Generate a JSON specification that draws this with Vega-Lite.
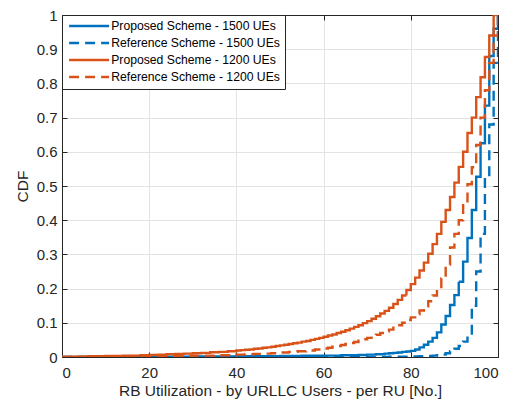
{
"$schema":"https://vega.github.io/schema/vega-lite/v6.json",
"width":436,"height":342,
"autosize":{"type":"none"},
"padding":{"left":62,"top":15,"right":17,"bottom":46},
"background":"white",
"config":{"font":"Liberation Sans","view":{"stroke":"#262626","strokeWidth":1},
"legend":{"title":null,"orient":"top-left","offset":0,"symbolType":"M-1,0H9","symbolSize":64,"symbolStrokeWidth":2.5,"labelFontSize":12.2,"labelColor":"#000000","labelLimit":300,"labelOffset":32,"rowPadding":4,"padding":5,"strokeColor":"#262626","fillColor":"white","cornerRadius":0}},
"layer":[
{"data":{"values":[
{"s":"Proposed Scheme - 1500 UEs","x":0,"cdf":0},{"s":"Proposed Scheme - 1500 UEs","x":10,"cdf":0.0005},{"s":"Proposed Scheme - 1500 UEs","x":20,"cdf":0.001},{"s":"Proposed Scheme - 1500 UEs","x":30,"cdf":0.0015},{"s":"Proposed Scheme - 1500 UEs","x":40,"cdf":0.002},{"s":"Proposed Scheme - 1500 UEs","x":50,"cdf":0.003},{"s":"Proposed Scheme - 1500 UEs","x":55,"cdf":0.0035},{"s":"Proposed Scheme - 1500 UEs","x":60,"cdf":0.004},{"s":"Proposed Scheme - 1500 UEs","x":64,"cdf":0.005},{"s":"Proposed Scheme - 1500 UEs","x":68,"cdf":0.006},{"s":"Proposed Scheme - 1500 UEs","x":70,"cdf":0.007},{"s":"Proposed Scheme - 1500 UEs","x":72,"cdf":0.008},{"s":"Proposed Scheme - 1500 UEs","x":74,"cdf":0.01},{"s":"Proposed Scheme - 1500 UEs","x":75,"cdf":0.011},{"s":"Proposed Scheme - 1500 UEs","x":76,"cdf":0.012},{"s":"Proposed Scheme - 1500 UEs","x":77,"cdf":0.013},{"s":"Proposed Scheme - 1500 UEs","x":78,"cdf":0.015},{"s":"Proposed Scheme - 1500 UEs","x":79,"cdf":0.016},{"s":"Proposed Scheme - 1500 UEs","x":80,"cdf":0.018},{"s":"Proposed Scheme - 1500 UEs","x":81,"cdf":0.022},{"s":"Proposed Scheme - 1500 UEs","x":82,"cdf":0.028},{"s":"Proposed Scheme - 1500 UEs","x":83,"cdf":0.036},{"s":"Proposed Scheme - 1500 UEs","x":84,"cdf":0.045},{"s":"Proposed Scheme - 1500 UEs","x":85,"cdf":0.056},{"s":"Proposed Scheme - 1500 UEs","x":86,"cdf":0.072},{"s":"Proposed Scheme - 1500 UEs","x":87,"cdf":0.095},{"s":"Proposed Scheme - 1500 UEs","x":88,"cdf":0.12},{"s":"Proposed Scheme - 1500 UEs","x":89,"cdf":0.152},{"s":"Proposed Scheme - 1500 UEs","x":90,"cdf":0.181},{"s":"Proposed Scheme - 1500 UEs","x":91,"cdf":0.22},{"s":"Proposed Scheme - 1500 UEs","x":92,"cdf":0.279},{"s":"Proposed Scheme - 1500 UEs","x":93,"cdf":0.348},{"s":"Proposed Scheme - 1500 UEs","x":94,"cdf":0.43},{"s":"Proposed Scheme - 1500 UEs","x":95,"cdf":0.527},{"s":"Proposed Scheme - 1500 UEs","x":96,"cdf":0.625},{"s":"Proposed Scheme - 1500 UEs","x":97,"cdf":0.735},{"s":"Proposed Scheme - 1500 UEs","x":98,"cdf":0.88},{"s":"Proposed Scheme - 1500 UEs","x":99,"cdf":0.96},{"s":"Proposed Scheme - 1500 UEs","x":100,"cdf":1.0},
{"s":"Reference Scheme - 1500 UEs","x":0,"cdf":0},{"s":"Reference Scheme - 1500 UEs","x":60,"cdf":0.0005},{"s":"Reference Scheme - 1500 UEs","x":75,"cdf":0.001},{"s":"Reference Scheme - 1500 UEs","x":80,"cdf":0.0015},{"s":"Reference Scheme - 1500 UEs","x":82,"cdf":0.002},{"s":"Reference Scheme - 1500 UEs","x":84,"cdf":0.003},{"s":"Reference Scheme - 1500 UEs","x":85,"cdf":0.004},{"s":"Reference Scheme - 1500 UEs","x":86,"cdf":0.005},{"s":"Reference Scheme - 1500 UEs","x":87,"cdf":0.007},{"s":"Reference Scheme - 1500 UEs","x":88,"cdf":0.011},{"s":"Reference Scheme - 1500 UEs","x":89,"cdf":0.017},{"s":"Reference Scheme - 1500 UEs","x":90,"cdf":0.024},{"s":"Reference Scheme - 1500 UEs","x":91,"cdf":0.032},{"s":"Reference Scheme - 1500 UEs","x":92,"cdf":0.045},{"s":"Reference Scheme - 1500 UEs","x":93,"cdf":0.06},{"s":"Reference Scheme - 1500 UEs","x":94,"cdf":0.15},{"s":"Reference Scheme - 1500 UEs","x":95,"cdf":0.25},{"s":"Reference Scheme - 1500 UEs","x":96,"cdf":0.36},{"s":"Reference Scheme - 1500 UEs","x":97,"cdf":0.52},{"s":"Reference Scheme - 1500 UEs","x":98,"cdf":0.68},{"s":"Reference Scheme - 1500 UEs","x":99,"cdf":0.86},{"s":"Reference Scheme - 1500 UEs","x":100,"cdf":1.0},
{"s":"Proposed Scheme - 1200 UEs","x":0,"cdf":0},{"s":"Proposed Scheme - 1200 UEs","x":2,"cdf":0.001},{"s":"Proposed Scheme - 1200 UEs","x":6,"cdf":0.002},{"s":"Proposed Scheme - 1200 UEs","x":10,"cdf":0.003},{"s":"Proposed Scheme - 1200 UEs","x":14,"cdf":0.004},{"s":"Proposed Scheme - 1200 UEs","x":18,"cdf":0.005},{"s":"Proposed Scheme - 1200 UEs","x":20,"cdf":0.006},{"s":"Proposed Scheme - 1200 UEs","x":22,"cdf":0.007},{"s":"Proposed Scheme - 1200 UEs","x":24,"cdf":0.008},{"s":"Proposed Scheme - 1200 UEs","x":26,"cdf":0.009},{"s":"Proposed Scheme - 1200 UEs","x":28,"cdf":0.01},{"s":"Proposed Scheme - 1200 UEs","x":30,"cdf":0.011},{"s":"Proposed Scheme - 1200 UEs","x":32,"cdf":0.012},{"s":"Proposed Scheme - 1200 UEs","x":34,"cdf":0.014},{"s":"Proposed Scheme - 1200 UEs","x":36,"cdf":0.015},{"s":"Proposed Scheme - 1200 UEs","x":38,"cdf":0.017},{"s":"Proposed Scheme - 1200 UEs","x":40,"cdf":0.019},{"s":"Proposed Scheme - 1200 UEs","x":41,"cdf":0.02},{"s":"Proposed Scheme - 1200 UEs","x":42,"cdf":0.021},{"s":"Proposed Scheme - 1200 UEs","x":43,"cdf":0.022},{"s":"Proposed Scheme - 1200 UEs","x":44,"cdf":0.024},{"s":"Proposed Scheme - 1200 UEs","x":45,"cdf":0.025},{"s":"Proposed Scheme - 1200 UEs","x":46,"cdf":0.027},{"s":"Proposed Scheme - 1200 UEs","x":47,"cdf":0.028},{"s":"Proposed Scheme - 1200 UEs","x":48,"cdf":0.03},{"s":"Proposed Scheme - 1200 UEs","x":49,"cdf":0.032},{"s":"Proposed Scheme - 1200 UEs","x":50,"cdf":0.034},{"s":"Proposed Scheme - 1200 UEs","x":51,"cdf":0.036},{"s":"Proposed Scheme - 1200 UEs","x":52,"cdf":0.038},{"s":"Proposed Scheme - 1200 UEs","x":53,"cdf":0.04},{"s":"Proposed Scheme - 1200 UEs","x":54,"cdf":0.042},{"s":"Proposed Scheme - 1200 UEs","x":55,"cdf":0.045},{"s":"Proposed Scheme - 1200 UEs","x":56,"cdf":0.047},{"s":"Proposed Scheme - 1200 UEs","x":57,"cdf":0.05},{"s":"Proposed Scheme - 1200 UEs","x":58,"cdf":0.053},{"s":"Proposed Scheme - 1200 UEs","x":59,"cdf":0.056},{"s":"Proposed Scheme - 1200 UEs","x":60,"cdf":0.059},{"s":"Proposed Scheme - 1200 UEs","x":61,"cdf":0.063},{"s":"Proposed Scheme - 1200 UEs","x":62,"cdf":0.066},{"s":"Proposed Scheme - 1200 UEs","x":63,"cdf":0.07},{"s":"Proposed Scheme - 1200 UEs","x":64,"cdf":0.074},{"s":"Proposed Scheme - 1200 UEs","x":65,"cdf":0.078},{"s":"Proposed Scheme - 1200 UEs","x":66,"cdf":0.083},{"s":"Proposed Scheme - 1200 UEs","x":67,"cdf":0.088},{"s":"Proposed Scheme - 1200 UEs","x":68,"cdf":0.093},{"s":"Proposed Scheme - 1200 UEs","x":69,"cdf":0.099},{"s":"Proposed Scheme - 1200 UEs","x":70,"cdf":0.105},{"s":"Proposed Scheme - 1200 UEs","x":71,"cdf":0.112},{"s":"Proposed Scheme - 1200 UEs","x":72,"cdf":0.119},{"s":"Proposed Scheme - 1200 UEs","x":73,"cdf":0.127},{"s":"Proposed Scheme - 1200 UEs","x":74,"cdf":0.135},{"s":"Proposed Scheme - 1200 UEs","x":75,"cdf":0.144},{"s":"Proposed Scheme - 1200 UEs","x":76,"cdf":0.155},{"s":"Proposed Scheme - 1200 UEs","x":77,"cdf":0.167},{"s":"Proposed Scheme - 1200 UEs","x":78,"cdf":0.18},{"s":"Proposed Scheme - 1200 UEs","x":79,"cdf":0.196},{"s":"Proposed Scheme - 1200 UEs","x":80,"cdf":0.213},{"s":"Proposed Scheme - 1200 UEs","x":81,"cdf":0.232},{"s":"Proposed Scheme - 1200 UEs","x":82,"cdf":0.253},{"s":"Proposed Scheme - 1200 UEs","x":83,"cdf":0.276},{"s":"Proposed Scheme - 1200 UEs","x":84,"cdf":0.302},{"s":"Proposed Scheme - 1200 UEs","x":85,"cdf":0.33},{"s":"Proposed Scheme - 1200 UEs","x":86,"cdf":0.36},{"s":"Proposed Scheme - 1200 UEs","x":87,"cdf":0.395},{"s":"Proposed Scheme - 1200 UEs","x":88,"cdf":0.43},{"s":"Proposed Scheme - 1200 UEs","x":89,"cdf":0.468},{"s":"Proposed Scheme - 1200 UEs","x":90,"cdf":0.51},{"s":"Proposed Scheme - 1200 UEs","x":91,"cdf":0.556},{"s":"Proposed Scheme - 1200 UEs","x":92,"cdf":0.6},{"s":"Proposed Scheme - 1200 UEs","x":93,"cdf":0.655},{"s":"Proposed Scheme - 1200 UEs","x":94,"cdf":0.7},{"s":"Proposed Scheme - 1200 UEs","x":95,"cdf":0.76},{"s":"Proposed Scheme - 1200 UEs","x":96,"cdf":0.818},{"s":"Proposed Scheme - 1200 UEs","x":97,"cdf":0.877},{"s":"Proposed Scheme - 1200 UEs","x":98,"cdf":0.94},{"s":"Proposed Scheme - 1200 UEs","x":99,"cdf":1.0},{"s":"Proposed Scheme - 1200 UEs","x":100,"cdf":1.0},
{"s":"Reference Scheme - 1200 UEs","x":0,"cdf":0},{"s":"Reference Scheme - 1200 UEs","x":5,"cdf":0.0005},{"s":"Reference Scheme - 1200 UEs","x":10,"cdf":0.001},{"s":"Reference Scheme - 1200 UEs","x":15,"cdf":0.0015},{"s":"Reference Scheme - 1200 UEs","x":20,"cdf":0.002},{"s":"Reference Scheme - 1200 UEs","x":25,"cdf":0.003},{"s":"Reference Scheme - 1200 UEs","x":30,"cdf":0.004},{"s":"Reference Scheme - 1200 UEs","x":35,"cdf":0.005},{"s":"Reference Scheme - 1200 UEs","x":40,"cdf":0.007},{"s":"Reference Scheme - 1200 UEs","x":42,"cdf":0.008},{"s":"Reference Scheme - 1200 UEs","x":44,"cdf":0.009},{"s":"Reference Scheme - 1200 UEs","x":46,"cdf":0.01},{"s":"Reference Scheme - 1200 UEs","x":48,"cdf":0.011},{"s":"Reference Scheme - 1200 UEs","x":50,"cdf":0.013},{"s":"Reference Scheme - 1200 UEs","x":52,"cdf":0.015},{"s":"Reference Scheme - 1200 UEs","x":54,"cdf":0.017},{"s":"Reference Scheme - 1200 UEs","x":56,"cdf":0.019},{"s":"Reference Scheme - 1200 UEs","x":58,"cdf":0.022},{"s":"Reference Scheme - 1200 UEs","x":60,"cdf":0.025},{"s":"Reference Scheme - 1200 UEs","x":61,"cdf":0.027},{"s":"Reference Scheme - 1200 UEs","x":62,"cdf":0.03},{"s":"Reference Scheme - 1200 UEs","x":63,"cdf":0.032},{"s":"Reference Scheme - 1200 UEs","x":64,"cdf":0.035},{"s":"Reference Scheme - 1200 UEs","x":65,"cdf":0.038},{"s":"Reference Scheme - 1200 UEs","x":66,"cdf":0.041},{"s":"Reference Scheme - 1200 UEs","x":67,"cdf":0.044},{"s":"Reference Scheme - 1200 UEs","x":68,"cdf":0.048},{"s":"Reference Scheme - 1200 UEs","x":69,"cdf":0.052},{"s":"Reference Scheme - 1200 UEs","x":70,"cdf":0.056},{"s":"Reference Scheme - 1200 UEs","x":71,"cdf":0.06},{"s":"Reference Scheme - 1200 UEs","x":72,"cdf":0.065},{"s":"Reference Scheme - 1200 UEs","x":73,"cdf":0.07},{"s":"Reference Scheme - 1200 UEs","x":74,"cdf":0.075},{"s":"Reference Scheme - 1200 UEs","x":75,"cdf":0.08},{"s":"Reference Scheme - 1200 UEs","x":76,"cdf":0.086},{"s":"Reference Scheme - 1200 UEs","x":77,"cdf":0.093},{"s":"Reference Scheme - 1200 UEs","x":78,"cdf":0.1},{"s":"Reference Scheme - 1200 UEs","x":79,"cdf":0.108},{"s":"Reference Scheme - 1200 UEs","x":80,"cdf":0.116},{"s":"Reference Scheme - 1200 UEs","x":81,"cdf":0.125},{"s":"Reference Scheme - 1200 UEs","x":82,"cdf":0.136},{"s":"Reference Scheme - 1200 UEs","x":83,"cdf":0.148},{"s":"Reference Scheme - 1200 UEs","x":84,"cdf":0.163},{"s":"Reference Scheme - 1200 UEs","x":85,"cdf":0.18},{"s":"Reference Scheme - 1200 UEs","x":86,"cdf":0.2},{"s":"Reference Scheme - 1200 UEs","x":87,"cdf":0.23},{"s":"Reference Scheme - 1200 UEs","x":88,"cdf":0.27},{"s":"Reference Scheme - 1200 UEs","x":89,"cdf":0.32},{"s":"Reference Scheme - 1200 UEs","x":90,"cdf":0.36},{"s":"Reference Scheme - 1200 UEs","x":91,"cdf":0.4},{"s":"Reference Scheme - 1200 UEs","x":92,"cdf":0.45},{"s":"Reference Scheme - 1200 UEs","x":93,"cdf":0.505},{"s":"Reference Scheme - 1200 UEs","x":94,"cdf":0.555},{"s":"Reference Scheme - 1200 UEs","x":95,"cdf":0.62},{"s":"Reference Scheme - 1200 UEs","x":96,"cdf":0.7},{"s":"Reference Scheme - 1200 UEs","x":97,"cdf":0.78},{"s":"Reference Scheme - 1200 UEs","x":98,"cdf":0.86},{"s":"Reference Scheme - 1200 UEs","x":99,"cdf":0.94},{"s":"Reference Scheme - 1200 UEs","x":100,"cdf":1.0}
]},
"mark":{"type":"line","interpolate":"step-after","strokeWidth":2.4,"clip":true},
"encoding":{
"x":{"field":"x","type":"quantitative","scale":{"domain":[0,100],"nice":false,"zero":false},
 "axis":{"values":[0,20,40,60,80,100],"grid":true,"gridColor":"#e3e3e3","domainColor":"#262626","tickColor":"#262626","tickSize":-5,"labelPadding":13,"labelFontSize":15,"labelColor":"#262626","title":"RB Utilization - by URLLC Users - per RU [No.]","titleFontSize":15.5,"titleFontWeight":"normal","titleColor":"#262626","titlePadding":3}},
"y":{"field":"cdf","type":"quantitative","scale":{"domain":[0,1],"nice":false},
 "axis":{"values":[0,0.1,0.2,0.3,0.4,0.5,0.6,0.7,0.8,0.9,1],"format":".1~f","grid":true,"gridColor":"#e3e3e3","domainColor":"#262626","tickColor":"#262626","tickSize":-5,"labelPadding":10,"labelFontSize":15,"labelColor":"#262626","title":"CDF","titleFontSize":15.5,"titleFontWeight":"normal","titleColor":"#262626","titlePadding":6}},
"color":{"field":"s","type":"nominal","scale":{"domain":["Proposed Scheme - 1500 UEs","Reference Scheme - 1500 UEs","Proposed Scheme - 1200 UEs","Reference Scheme - 1200 UEs"],"range":["#0072BD","#0072BD","#D95319","#D95319"]}},
"strokeDash":{"field":"s","type":"nominal","scale":{"domain":["Proposed Scheme - 1500 UEs","Reference Scheme - 1500 UEs","Proposed Scheme - 1200 UEs","Reference Scheme - 1200 UEs"],"range":[[1,0],[10,6],[1,0],[10,6]]}}
}},
{"data":{"values":[{"x":0,"cdf":0}]},
"mark":{"type":"point","opacity":0},
"encoding":{
"x":{"field":"x","type":"quantitative","axis":{"orient":"top","values":[0,20,40,60,80,100],"labels":false,"title":null,"grid":false,"domainColor":"#262626","tickColor":"#262626","tickSize":-5}},
"y":{"field":"cdf","type":"quantitative","axis":{"orient":"right","values":[0,0.1,0.2,0.3,0.4,0.5,0.6,0.7,0.8,0.9,1],"labels":false,"title":null,"grid":false,"domainColor":"#262626","tickColor":"#262626","tickSize":-5}}
}}
],
"resolve":{"axis":{"x":"independent","y":"independent"}}
}
